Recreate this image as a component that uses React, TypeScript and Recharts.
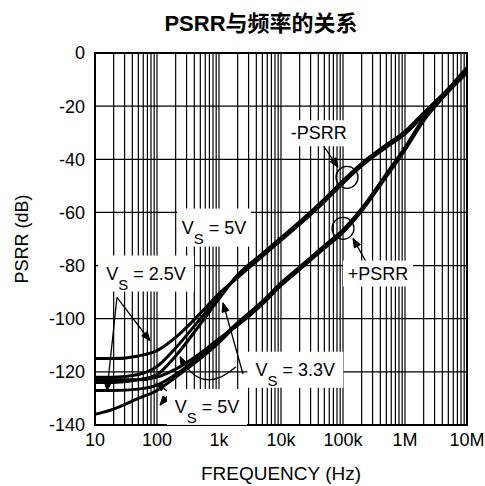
import React from 'react';
import {
  LineChart, Line, XAxis, YAxis, CartesianGrid, ReferenceLine, ReferenceDot, ReferenceArea,
} from 'recharts';

// ---------- data ----------
const FREQ = [10, 20, 50, 100, 200, 500, 1e3, 2e3, 5e3, 1e4, 2e4, 5e4, 1e5, 2e5, 5e5, 1e6, 2e6, 5e6, 1e7];
// -PSRR curves
const NEG_VS25 = [-115, -115, -114, -112, -107, -98, -90.5, -84.5, -76.5, -70.5, -64.5, -56, -49, -42.5, -35.5, -30.5, -23.5, -14.5, -7.5];
const NEG_VS33 = [-122, -122, -121, -118, -111, -100, -91.5, -84, -76, -70, -64, -55.5, -48.5, -42, -35, -30, -23, -14, -7];
const NEG_VS5 = [-124, -124, -123, -121, -114, -102, -92.5, -83.5, -75.5, -69.5, -63.5, -55, -48, -41.5, -34.5, -29.5, -22.5, -13.5, -6.5];
// +PSRR curves
const POS_VS25 = [-127, -127, -126.5, -125, -121, -114, -108, -101.5, -93.5, -86.5, -80.5, -72.5, -66.5, -58.5, -45.5, -35.5, -24.5, -13.5, -5.5];
const POS_VS33 = [-123, -123, -123, -122, -119, -113, -107.5, -102.5, -94.5, -87.5, -81.5, -73.5, -67.5, -59.5, -46.5, -36.5, -25.5, -14.5, -6.5];
const POS_VS5 = [-136, -134, -130, -127, -122, -115, -109, -102, -94, -87, -81, -73, -67, -59, -46, -36, -25, -14, -6];

const SERIES: [string, number[]][] = [
  ['negVs25', NEG_VS25], ['negVs33', NEG_VS33], ['negVs5', NEG_VS5],
  ['posVs25', POS_VS25], ['posVs33', POS_VS33], ['posVs5', POS_VS5],
];

const X_DECADES = [10, 100, 1e3, 1e4, 1e5, 1e6, 1e7];
const X_DECADE_LABELS = ['10', '100', '1k', '10k', '100k', '1M', '10M'];
const Y_TICKS = [-140, -120, -100, -80, -60, -40, -20, 0];

const X_GRID: number[] = [];
for (let d = 10; d < 1e7; d *= 10) {
  for (let m = 1; m <= 9; m++) X_GRID.push(m * d);
}
X_GRID.push(1e7);

const data = FREQ.map((f, i) => {
  const row: Record<string, number> = { f };
  SERIES.forEach(([k, arr]) => { row[k] = arr[i]; });
  return row;
});

// annotations (data coordinates)
const LABELS = [
  { f: 830, db: -65.7, main: 'V', sub: 'S', rest: ' = 5V', w: 74, h: 38 },
  { f: 66.6, db: -83, main: 'V', sub: 'S', rest: ' = 2.5V', w: 96, h: 36 },
  { f: 17000, db: -119.2, main: 'V', sub: 'S', rest: ' = 3.3V', w: 96, h: 36 },
  { f: 640, db: -133.2, main: 'V', sub: 'S', rest: ' = 5V', w: 80, h: 36 },
  { f: 40800, db: -30.2, main: '-PSRR', sub: '', rest: '', w: 64, h: 26 },
  { f: 367000, db: -83, main: '+PSRR', sub: '', rest: '', w: 70, h: 26 },
];
const ARROWS = [
  { from: [45600, -34], to: [83000, -43], bend: 0 },
  { from: [244000, -79.2], to: [145000, -69.8], bend: 0 },
  { from: [22.6, -92], to: [15.6, -127.2], bend: 0 },
  { from: [22.6, -92], to: [77, -108.3], bend: 0 },
  { from: [2440, -120.8], to: [1160, -94], bend: 0 },
  { from: [1880, -118.1], to: [235, -114.3], bend: 18 },
  { from: [162, -127.9], to: [96, -124.2], bend: 0 },
  { from: [162, -127.9], to: [112, -132.5], bend: 0 },
];
const CIRCLES = [
  { f: 116000, db: -46.8 },
  { f: 100000, db: -66 },
];

const FONT = '"Liberation Sans", Arial, Helvetica, sans-serif';

const fmtX = (v: number) => {
  const i = X_DECADES.findIndex((d) => Math.abs(d - v) / d < 1e-6);
  return i >= 0 ? X_DECADE_LABELS[i] : '';
};

const LabelBox = (props: any) => {
  const { cx, cy, main, sub, rest, w, h } = props;
  if (cx == null || cy == null) return null;
  return (
    <g>
      <rect x={cx - w / 2} y={cy - h / 2} width={w} height={h} fill="#fff" />
      <text x={cx} y={cy + 6} textAnchor="middle" fontFamily={FONT} fontSize={18} fill="#000">
        <tspan>{main}</tspan>
        {sub ? <tspan dy={10} fontSize={15}>{sub}</tspan> : null}
        {rest ? <tspan dy={sub ? -10 : 0}>{rest}</tspan> : null}
      </text>
    </g>
  );
};

const Arrow = (props: any) => {
  const { x1, y1, x2, y2, bend } = props;
  if ([x1, y1, x2, y2].some((v) => v == null || isNaN(v))) return null;
  const len = 9;
  const half = 3.5;
  let path: string;
  let ax: number; let ay: number;
  if (bend) {
    const mx = (x1 + x2) / 2; const my = (y1 + y2) / 2;
    const dx = x2 - x1; const dy = y2 - y1;
    const L = Math.hypot(dx, dy) || 1;
    const nx = dy / L; const ny = -dx / L;
    const qx = mx + nx * bend * 2; const qy = my + ny * bend * 2;
    path = `M${x1},${y1} Q${qx},${qy} ${x2},${y2}`;
    ax = x2 - qx; ay = y2 - qy;
  } else {
    path = `M${x1},${y1} L${x2},${y2}`;
    ax = x2 - x1; ay = y2 - y1;
  }
  const l = Math.hypot(ax, ay) || 1;
  const ux = ax / l; const uy = ay / l;
  const bx = x2 - ux * len; const by = y2 - uy * len;
  const head = `M${x2},${y2} L${bx - uy * half},${by + ux * half} L${bx + uy * half},${by - ux * half} Z`;
  return (
    <g>
      <path d={path} stroke="#000" strokeWidth={1.3} fill="none" />
      <path d={head} fill="#000" stroke="#000" strokeWidth={1} />
    </g>
  );
};

export default function App() {
  return (
    <div style={{ position: 'absolute', left: 0, top: 0, width: 485, height: 486, background: '#fff' }}>
      <div
        style={{
          position: 'absolute', left: 0, top: 11, width: 522, textAlign: 'center',
          fontFamily: '"Liberation Sans", "Noto Sans CJK SC", sans-serif', fontWeight: 'bold', fontSize: 22, lineHeight: '26px', color: '#000',
        }}
      >
        PSRR与频率的关系
      </div>
      <LineChart
        width={485}
        height={486}
        data={data}
        margin={{ top: 53, right: 18, left: 0, bottom: 0 }}
        style={{ position: 'absolute', left: 0, top: 0 }}
      >
        <CartesianGrid stroke="#000" strokeWidth={1.2} />
        <XAxis
          dataKey="f"
          type="number"
          scale="log"
          domain={[10, 1e7]}
          ticks={X_GRID}
          interval={0}
          tickFormatter={fmtX}
          tickLine={false}
          axisLine={false}
          height={61}
          tickSize={6}
          tickMargin={2}
          tick={{ fill: '#000', fontSize: 18, fontFamily: FONT }}
          allowDataOverflow
          label={{ value: 'FREQUENCY (Hz)', position: 'insideBottom', offset: 6, fill: '#000', fontSize: 19, fontFamily: FONT }}
        />
        <YAxis
          type="number"
          domain={[-140, 0]}
          ticks={Y_TICKS}
          interval={0}
          tickLine={false}
          axisLine={false}
          width={95}
          tickSize={6}
          tickMargin={4}
          tick={{ fill: '#000', fontSize: 18, fontFamily: FONT }}
          allowDataOverflow
          label={{ value: 'PSRR (dB)', angle: -90, position: 'insideLeft', offset: 22, fill: '#000', fontSize: 18, fontFamily: FONT, style: { textAnchor: 'middle' } }}
        />
        {SERIES.map(([k]) => (
          <Line
            key={k}
            dataKey={k}
            type="monotone"
            stroke="#000"
            strokeWidth={3}
            dot={false}
            isAnimationActive={false}
          />
        ))}
        <ReferenceArea x1={10} x2={1e7} y1={-140} y2={0} fill="none" fillOpacity={0} stroke="#000" strokeWidth={2} ifOverflow="visible" />
        {CIRCLES.map((c, i) => (
          <ReferenceDot key={`c${i}`} x={c.f} y={c.db} r={11} fill="none" stroke="#000" strokeWidth={1.3} ifOverflow="visible" />
        ))}
        {LABELS.map((l, i) => (
          <ReferenceDot
            key={`l${i}`}
            x={l.f}
            y={l.db}
            r={1}
            ifOverflow="visible"
            shape={(p: any) => <LabelBox {...p} main={l.main} sub={l.sub} rest={l.rest} w={l.w} h={l.h} />}
          />
        ))}
        {ARROWS.map((a, i) => (
          <ReferenceLine
            key={`a${i}`}
            segment={[{ x: a.from[0], y: a.from[1] }, { x: a.to[0], y: a.to[1] }]}
            ifOverflow="visible"
            shape={(p: any) => <Arrow {...p} bend={a.bend} />}
          />
        ))}
      </LineChart>
    </div>
  );
}
